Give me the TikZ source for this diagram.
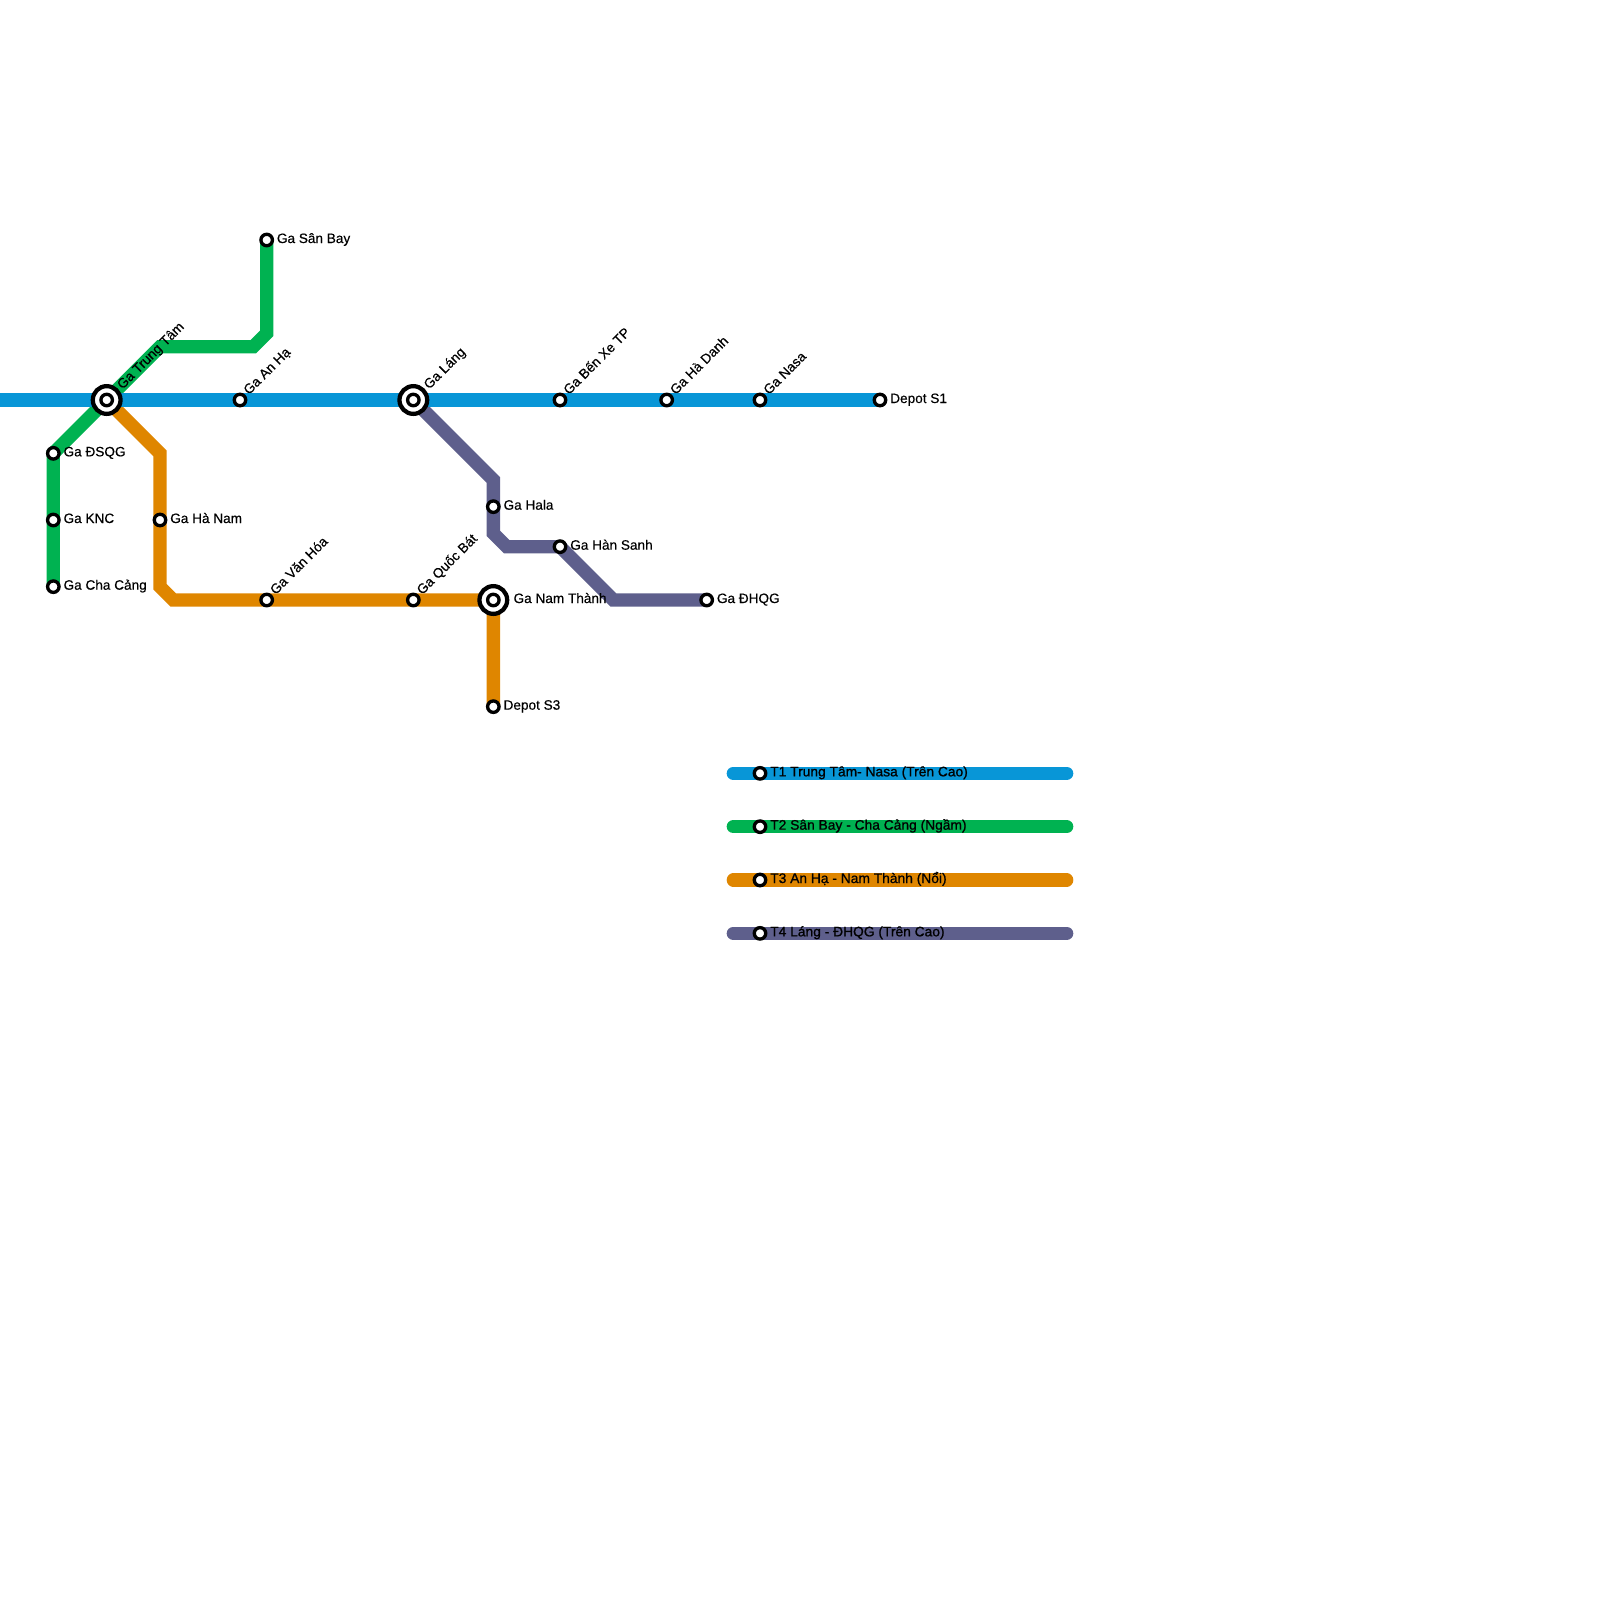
\documentclass[tikz,border=0pt]{standalone}
\usepackage{fontspec}
\setmainfont{Liberation Sans}[FakeBold=0.4]
\newfontfamily\legendfont{Liberation Sans}[FakeBold=0.9]
\definecolor{tone}{HTML}{0896D7}
\definecolor{ttwo}{HTML}{00B251}
\definecolor{tthree}{HTML}{DF8600}
\definecolor{tfour}{HTML}{5E5F8C}
\tikzset{
  route/.style={line width=10pt,line join=miter,line cap=butt},
  legendbar/.style={route,line cap=round},
  stn/.style={circle,draw=black,fill=white,line width=2.5pt,inner sep=0pt,minimum size=8.6pt,outer sep=0pt},
  hubring/.style={circle,draw=black,fill=white,line width=3.2pt,inner sep=0pt,minimum size=20.8pt,outer sep=0pt},
  lab/.style={font=\fontsize{10.2}{12}\selectfont,inner sep=0pt,anchor=base west,text=black},
  dlab/.style={lab,rotate=45},
  leg/.style={font=\legendfont\fontsize{10.35}{12}\selectfont,inner sep=0pt,anchor=base west,text=black}
}
\begin{document}
\begin{tikzpicture}[x=0.75pt,y=-0.75pt]
\useasboundingbox (0,0) rectangle (1600,1600);
% positions
\coordinate (tt) at (106.67,400);
\coordinate (dsqg) at (53.33,453.33);
\coordinate (knc) at (53.33,520);
\coordinate (ccang) at (53.33,586.67);
\coordinate (sbay) at (266.67,240);
\coordinate (g1) at (160,346.67);
\coordinate (g2) at (253.33,346.67);
\coordinate (g3) at (266.67,333.33);
\coordinate (west) at (0,400);
\coordinate (anha) at (240,400);
\coordinate (lang) at (413.33,400);
\coordinate (bxe) at (560,400);
\coordinate (hdanh) at (666.67,400);
\coordinate (nasa) at (760,400);
\coordinate (dsone) at (880,400);
\coordinate (o1) at (160,453.33);
\coordinate (hnam) at (160,520);
\coordinate (o2) at (160,586.67);
\coordinate (o3) at (173.33,600);
\coordinate (vhoa) at (266.67,600);
\coordinate (qbat) at (413.33,600);
\coordinate (nthanh) at (493.33,600);
\coordinate (dsthree) at (493.33,706.67);
\coordinate (p1) at (493.33,480);
\coordinate (hala) at (493.33,506.67);
\coordinate (p2) at (493.33,533.33);
\coordinate (p3) at (506.67,546.67);
\coordinate (hsanh) at (560,546.67);
\coordinate (p4) at (613.33,600);
\coordinate (dhqg) at (706.67,600);
\foreach \n/\y in {a/773.33,b/826.67,c/880,d/933.33}{
  \coordinate (l\n) at (733.33,\y);
  \coordinate (r\n) at (1066.67,\y);
  \coordinate (s\n) at (760,\y);
}
% lines
\draw[route,ttwo] (ccang) -- (dsqg) -- (tt) -- (g1) -- (g2) -- (g3) -- (sbay);
\draw[route,tthree] (tt) -- (o1) -- (o2) -- (o3) -- (nthanh) -- (dsthree);
\draw[route,tfour] (lang) -- (p1) -- (p2) -- (p3) -- (hsanh) -- (p4) -- (dhqg);
\draw[route,tone] (west) -- (dsone);
\draw[legendbar,tone] (la) -- (ra);
\draw[legendbar,ttwo] (lb) -- (rb);
\draw[legendbar,tthree] (lc) -- (rc);
\draw[legendbar,tfour] (ld) -- (rd);
% hubs
\node[hubring] (htt) at (tt) {};
\node[hubring] (hlang) at (lang) {};
\node[hubring] (hnth) at (nthanh) {};
% stations
\foreach \p in {tt,dsqg,knc,ccang,sbay,anha,lang,bxe,hdanh,nasa,dsone,hnam,vhoa,qbat,nthanh,dsthree,hala,hsanh,dhqg,sa,sb,sc,sd}{
  \node[stn] (n\p) at (\p) {};
}
% right labels
\node[lab] (t1) at ([shift={(10,3)}]sbay) {Ga Sân Bay};
\node[lab] (t2) at ([shift={(10,3)}]dsqg) {Ga ĐSQG};
\node[lab] (t3) at ([shift={(10,3)}]knc) {Ga KNC};
\node[lab] (t4) at ([shift={(10,3)}]ccang) {Ga Cha Cảng};
\node[lab] (t5) at ([shift={(10,3)}]hnam) {Ga Hà Nam};
\node[lab] (t6) at ([shift={(10,3)}]dsone) {Depot S1};
\node[lab] (t7) at ([shift={(10,3)}]hala) {Ga Hala};
\node[lab] (t8) at ([shift={(10,3)}]hsanh) {Ga Hàn Sanh};
\node[lab] (t9) at ([shift={(20,3)}]nthanh) {Ga Nam Thành};
\node[lab] (t10) at ([shift={(10,3)}]dhqg) {Ga ĐHQG};
\node[lab] (t11) at ([shift={(10,3)}]dsthree) {Depot S3};
% diagonal labels
\node[dlab] (d1) at ([shift={(15.7,-10)}]tt) {Ga Trung Tâm};
\node[dlab] (d2) at ([shift={(8.8,-4.5)}]anha) {Ga An Hạ};
\node[dlab] (d3) at ([shift={(15.7,-10)}]lang) {Ga Láng};
\node[dlab] (d4) at ([shift={(8.8,-4.5)}]bxe) {Ga Bến Xe TP};
\node[dlab] (d5) at ([shift={(8.8,-4.5)}]hdanh) {Ga Hà Danh};
\node[dlab] (d6) at ([shift={(8.8,-4.5)}]nasa) {Ga Nasa};
\node[dlab] (d7) at ([shift={(8.8,-4.5)}]vhoa) {Ga Văn Hóa};
\node[dlab] (d8) at ([shift={(8.8,-4.5)}]qbat) {Ga Quốc Bát};
% legend labels
\node[leg] (k1) at ([shift={(10,3)}]sa) {T1 Trung Tâm- Nasa (Trên Cao)};
\node[leg] (k2) at ([shift={(10,3)}]sb) {T2 Sân Bay - Cha Cảng (Ngầm)};
\node[leg] (k3) at ([shift={(10,3)}]sc) {T3 An Hạ - Nam Thành (Nổi)};
\node[leg] (k4) at ([shift={(10,3)}]sd) {T4 Láng - ĐHQG (Trên Cao)};
\end{tikzpicture}
\end{document}
